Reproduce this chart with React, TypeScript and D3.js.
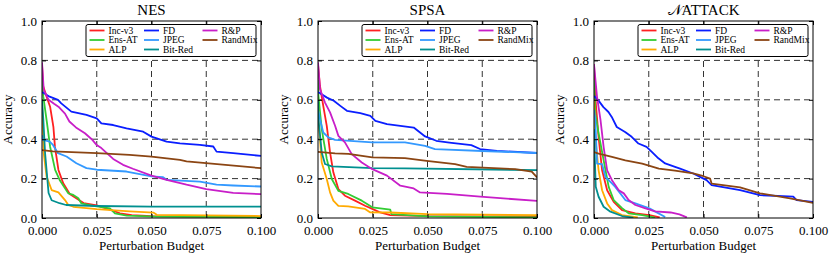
import React, { useRef, useEffect } from 'react';
import * as d3 from 'd3';

type Pt = [number, number];

const methods = ['Inc-v3', 'Ens-AT', 'ALP', 'FD', 'JPEG', 'Bit-Red', 'R&P', 'RandMix'];
const colors = ['#ff2020', '#33cc33', '#ffaa00', '#0a1eff', '#3399ff', '#009090', '#c81ec8', '#8b4513'];
const xTicks = [0, 0.025, 0.05, 0.075, 0.1];
const yTicks = [0, 0.2, 0.4, 0.6, 0.8, 1.0];

// NES
const nesInc: Pt[] = [[0, 0.78], [0.0005, 0.67], [0.0021, 0.616], [0.0037, 0.565], [0.0052, 0.463], [0.0059, 0.362], [0.0075, 0.244], [0.0097, 0.176], [0.0128, 0.12], [0.019, 0.076], [0.025, 0.064], [0.031, 0.042], [0.0356, 0.024], [0.041, 0.015], [0.05, 0.01], [0.1, 0.006]];
const nesEns: Pt[] = [[0, 0.7], [0.0006, 0.616], [0.0021, 0.497], [0.0037, 0.362], [0.006, 0.244], [0.0082, 0.19], [0.012, 0.125], [0.0143, 0.117], [0.0166, 0.1], [0.018, 0.074], [0.0234, 0.061], [0.031, 0.049], [0.0333, 0.024], [0.0387, 0.012], [0.0524, 0.007], [0.1, 0.004]];
const nesAlp: Pt[] = [[0, 0.6], [0.0003, 0.497], [0.0008, 0.328], [0.0021, 0.21], [0.0044, 0.142], [0.0075, 0.13], [0.0105, 0.091], [0.012, 0.066], [0.0143, 0.057], [0.025, 0.045], [0.04, 0.034], [0.051, 0.027], [0.0524, 0.016], [0.1, 0.01]];
const nesFd: Pt[] = [[0, 0.64], [0.0035, 0.616], [0.0073, 0.6], [0.0088, 0.582], [0.0134, 0.54], [0.0203, 0.523], [0.025, 0.506], [0.0271, 0.48], [0.0325, 0.472], [0.0386, 0.455], [0.0462, 0.438], [0.05, 0.413], [0.0569, 0.388], [0.063, 0.379], [0.0721, 0.371], [0.0782, 0.363], [0.0797, 0.337], [0.0873, 0.329], [0.1, 0.315]];
const nesJpeg: Pt[] = [[0, 0.42], [0.0005, 0.396], [0.0035, 0.388], [0.005, 0.371], [0.0073, 0.329], [0.0112, 0.312], [0.0157, 0.278], [0.0203, 0.253], [0.025, 0.245], [0.0386, 0.236], [0.05, 0.211], [0.0553, 0.207], [0.0569, 0.194], [0.0721, 0.185], [0.0797, 0.169], [0.0873, 0.165], [0.1, 0.16]];
const nesBit: Pt[] = [[0, 0.6], [0.0006, 0.5], [0.0014, 0.33], [0.003, 0.127], [0.0044, 0.09], [0.008, 0.075], [0.011, 0.066], [0.025, 0.061], [0.05, 0.058], [0.1, 0.058]];
const nesRp: Pt[] = [[0, 0.79], [0.0008, 0.65], [0.003, 0.6], [0.0055, 0.58], [0.0075, 0.565], [0.0105, 0.53], [0.0125, 0.49], [0.0155, 0.46], [0.0196, 0.43], [0.0227, 0.4], [0.025, 0.37], [0.0271, 0.355], [0.0325, 0.3], [0.037, 0.27], [0.0415, 0.25], [0.05, 0.215], [0.0569, 0.194], [0.066, 0.169], [0.075, 0.147], [0.0873, 0.128], [0.1, 0.121]];
const nesMix: Pt[] = [[0, 0.345], [0.005, 0.338], [0.025, 0.329], [0.04, 0.32], [0.05, 0.312], [0.063, 0.295], [0.066, 0.287], [0.1, 0.253]];

// SPSA
const spsaInc: Pt[] = [[0, 0.78], [0.0009, 0.67], [0.0024, 0.569], [0.004, 0.468], [0.0055, 0.333], [0.007, 0.232], [0.0093, 0.147], [0.0123, 0.113], [0.0169, 0.088], [0.0215, 0.062], [0.0248, 0.046], [0.028, 0.03], [0.033, 0.015], [0.05, 0.01], [0.1, 0.008]];
const spsaEns: Pt[] = [[0, 0.7], [0.0002, 0.62], [0.0017, 0.451], [0.004, 0.3], [0.0063, 0.198], [0.0093, 0.138], [0.0138, 0.122], [0.02, 0.088], [0.0248, 0.054], [0.033, 0.042], [0.0335, 0.02], [0.05, 0.008], [0.1, 0.003]];
const spsaAlp: Pt[] = [[0, 0.6], [0.0002, 0.5], [0.0017, 0.282], [0.004, 0.198], [0.0055, 0.13], [0.007, 0.088], [0.0093, 0.062], [0.0138, 0.059], [0.0215, 0.046], [0.0237, 0.029], [0.033, 0.028], [0.05, 0.02], [0.1, 0.015]];
const spsaFd: Pt[] = [[0, 0.64], [0.0041, 0.611], [0.0072, 0.595], [0.0102, 0.569], [0.0132, 0.544], [0.0193, 0.532], [0.0239, 0.519], [0.0262, 0.493], [0.0315, 0.476], [0.0376, 0.468], [0.0437, 0.459], [0.0466, 0.434], [0.0489, 0.414], [0.054, 0.392], [0.06, 0.383], [0.07, 0.37], [0.074, 0.35], [0.0817, 0.341], [0.1, 0.33]];
const spsaJpeg: Pt[] = [[0, 0.55], [0.0009, 0.502], [0.0024, 0.434], [0.0047, 0.409], [0.0078, 0.397], [0.0248, 0.384], [0.0397, 0.384], [0.0489, 0.366], [0.0534, 0.35], [0.075, 0.34], [0.1, 0.33]];
const spsaBit: Pt[] = [[0, 0.6], [0.0002, 0.502], [0.0017, 0.333], [0.0032, 0.274], [0.0063, 0.262], [0.0248, 0.253], [0.0397, 0.252], [0.1, 0.243]];
const spsaRp: Pt[] = [[0, 0.79], [0.0009, 0.654], [0.0032, 0.586], [0.0055, 0.536], [0.0078, 0.468], [0.0093, 0.417], [0.0123, 0.384], [0.0154, 0.324], [0.02, 0.282], [0.0248, 0.248], [0.0315, 0.215], [0.0376, 0.164], [0.0437, 0.15], [0.0466, 0.13], [0.0589, 0.122], [0.0741, 0.108], [0.1, 0.087]];
const spsaMix: Pt[] = [[0, 0.336], [0.0078, 0.328], [0.0139, 0.325], [0.0248, 0.308], [0.0397, 0.304], [0.0496, 0.29], [0.0626, 0.274], [0.0679, 0.26], [0.09, 0.248], [0.0976, 0.235], [0.1, 0.206]];

// NATTACK
const natInc: Pt[] = [[0, 0.78], [0.0006, 0.613], [0.0021, 0.41], [0.0037, 0.242], [0.006, 0.141], [0.009, 0.082], [0.0128, 0.04], [0.0189, 0.024], [0.0253, 0.015], [0.03, 0.003]];
const natEns: Pt[] = [[0, 0.7], [0.0006, 0.53], [0.0021, 0.43], [0.0044, 0.293], [0.0067, 0.158], [0.009, 0.091], [0.0128, 0.05], [0.0158, 0.024], [0.022, 0.015], [0.028, 0.002]];
const natAlp: Pt[] = [[0, 0.6], [0.0006, 0.41], [0.0021, 0.242], [0.0037, 0.141], [0.006, 0.074], [0.0082, 0.04], [0.0128, 0.015], [0.02, 0.003]];
const natFd: Pt[] = [[0, 0.62], [0.002, 0.597], [0.0043, 0.563], [0.0066, 0.538], [0.0081, 0.513], [0.0104, 0.462], [0.0142, 0.437], [0.0172, 0.412], [0.0203, 0.378], [0.024, 0.361], [0.0264, 0.336], [0.0294, 0.303], [0.0325, 0.277], [0.037, 0.26], [0.0393, 0.251], [0.0453, 0.226], [0.0484, 0.209], [0.0514, 0.192], [0.0537, 0.167], [0.0667, 0.141], [0.0758, 0.116], [0.091, 0.108], [0.0925, 0.091], [0.1, 0.082]];
const natJpeg: Pt[] = [[0, 0.55], [0.0006, 0.495], [0.0014, 0.276], [0.0037, 0.273], [0.0052, 0.209], [0.0075, 0.183], [0.0097, 0.158], [0.012, 0.125], [0.0143, 0.091], [0.0189, 0.074], [0.0253, 0.049], [0.0325, 0.005]];
const natBit: Pt[] = [[0, 0.45], [0.0003, 0.327], [0.0008, 0.158], [0.0021, 0.108], [0.0044, 0.057], [0.0075, 0.032], [0.0128, 0.01], [0.018, 0.002]];
const natRp: Pt[] = [[0, 0.78], [0.0014, 0.613], [0.003, 0.495], [0.0044, 0.36], [0.006, 0.242], [0.0082, 0.192], [0.0113, 0.141], [0.0136, 0.125], [0.0158, 0.091], [0.0189, 0.066], [0.0235, 0.049], [0.0279, 0.034], [0.035, 0.028], [0.039, 0.018], [0.0424, 0.003]];
const natMix: Pt[] = [[0, 0.335], [0.0021, 0.327], [0.0082, 0.31], [0.0143, 0.293], [0.022, 0.276], [0.0296, 0.251], [0.037, 0.24], [0.0453, 0.226], [0.05, 0.212], [0.053, 0.2], [0.0537, 0.175], [0.0667, 0.155], [0.0758, 0.125], [0.0895, 0.1], [0.1, 0.077]];

const panels = [
  { title: 'NES', series: [nesInc, nesEns, nesAlp, nesFd, nesJpeg, nesBit, nesRp, nesMix] },
  { title: 'SPSA', series: [spsaInc, spsaEns, spsaAlp, spsaFd, spsaJpeg, spsaBit, spsaRp, spsaMix] },
  { title: 'NATTACK', series: [natInc, natEns, natAlp, natFd, natJpeg, natBit, natRp, natMix] },
];

const FONT = '"Liberation Serif", "Times New Roman", serif';

const App = () => {
  const svgRef = useRef<SVGSVGElement>(null);

  useEffect(() => {
    const width = 830;
    const height = 258;
    const svg = d3.select(svgRef.current).attr('width', width).attr('height', height);
    svg.selectAll('*').remove();

    const plotW = 219;
    const plotH = 197;
    const lefts = [42, 318, 594];
    const top = 21;

    const x = d3.scaleLinear().domain([0, 0.1]).range([0, plotW]);
    const y = d3.scaleLinear().domain([0, 1]).range([plotH, 0]);
    const line = d3.line<Pt>().x(d => x(d[0])).y(d => y(d[1]));

    panels.forEach((p, pi) => {
      const g = svg.append('g').attr('transform', `translate(${lefts[pi]},${top})`);

      svg.append('defs').append('clipPath').attr('id', `clip${pi}`)
        .append('rect').attr('width', plotW).attr('height', plotH);

      // grid
      g.selectAll('.vg').data(xTicks.slice(1, -1)).enter().append('line')
        .attr('x1', d => x(d)).attr('x2', d => x(d)).attr('y1', 0).attr('y2', plotH)
        .attr('stroke', '#333').attr('stroke-width', 1).attr('stroke-dasharray', '6,4');
      g.selectAll('.hg').data(yTicks.slice(1, -1)).enter().append('line')
        .attr('x1', 0).attr('x2', plotW).attr('y1', d => y(d)).attr('y2', d => y(d))
        .attr('stroke', '#333').attr('stroke-width', 1).attr('stroke-dasharray', '6,4');

      // curves
      const cg = g.append('g').attr('clip-path', `url(#clip${pi})`);
      p.series.forEach((s, si) => {
        cg.append('path').datum(s).attr('d', line)
          .attr('fill', 'none').attr('stroke', colors[si]).attr('stroke-width', 1.8)
          .attr('stroke-linejoin', 'round');
      });

      // axes with inward ticks
      const ax = g.append('g').attr('transform', `translate(0,${plotH})`)
        .call(d3.axisBottom(x).tickValues(xTicks).tickFormat(d3.format('.3f')).tickSizeInner(-4).tickSizeOuter(0).tickPadding(8));
      const ay = g.append('g')
        .call(d3.axisLeft(y).tickValues(yTicks).tickFormat(d3.format('.1f')).tickSizeInner(-4).tickSizeOuter(0).tickPadding(5));
      g.append('g').call(d3.axisTop(x).tickValues(xTicks).tickFormat(() => '').tickSizeInner(-4).tickSizeOuter(0));
      g.append('g').attr('transform', `translate(${plotW},0)`)
        .call(d3.axisRight(y).tickValues(yTicks).tickFormat(() => '').tickSizeInner(-4).tickSizeOuter(0));
      g.selectAll('.domain').remove();
      g.selectAll('.tick line').attr('stroke', '#000');
      [ax, ay].forEach(a => a.selectAll('text').attr('font-family', FONT).attr('font-size', 13).attr('fill', '#000'));

      // legend
      const lg = g.append('g').attr('transform', `translate(44,3.5)`);
      lg.append('rect').attr('width', 170).attr('height', 32).attr('rx', 2)
        .attr('fill', '#fff').attr('stroke', '#000').attr('stroke-width', 1);
      const colX = [3.5, 58, 116.5];
      methods.forEach((m, mi) => {
        const c = Math.floor(mi / 3);
        const r = mi % 3;
        const ly = 6 + r * 9.5;
        lg.append('line').attr('x1', colX[c]).attr('x2', colX[c] + 15).attr('y1', ly).attr('y2', ly)
          .attr('stroke', colors[mi]).attr('stroke-width', 1.8);
        lg.append('text').attr('x', colX[c] + 19).attr('y', ly + 3.2).text(m)
          .attr('font-family', FONT).attr('font-size', 9.5).attr('fill', '#000');
      });

      // frame
      g.append('rect').attr('width', plotW).attr('height', plotH)
        .attr('fill', 'none').attr('stroke', '#000').attr('stroke-width', 1);

      // title
      const t = g.append('text').attr('x', plotW / 2).attr('y', -6).attr('text-anchor', 'middle')
        .attr('font-family', FONT).attr('font-size', 15).attr('fill', '#000');
      if (p.title === 'NATTACK') {
        t.append('tspan').text('𝒩');
        t.append('tspan').text('ATTACK');
      } else {
        t.text(p.title);
      }

      // axis labels
      g.append('text').attr('x', plotW / 2).attr('y', plotH + 32).attr('text-anchor', 'middle')
        .attr('font-family', FONT).attr('font-size', 13).attr('fill', '#000').text('Perturbation Budget');
      g.append('text').attr('transform', `translate(-30,${plotH / 2}) rotate(-90)`).attr('text-anchor', 'middle')
        .attr('font-family', FONT).attr('font-size', 13).attr('fill', '#000').text('Accuracy');
    });
  }, []);

  return (
    <div style={{ position: 'absolute', left: 0, top: 0 }}>
      <svg ref={svgRef} style={{ display: 'block' }} />
    </div>
  );
};

export default App;
